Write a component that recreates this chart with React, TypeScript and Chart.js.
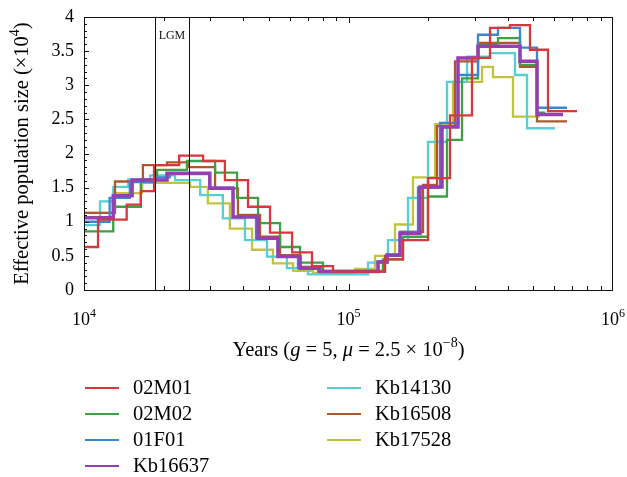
import React, { useEffect, useRef } from 'react';
import { Chart, registerables } from 'chart.js';

Chart.register(...registerables);

// ---------- data (years, effective population size ×10^4) ----------
const seriesNames = ['02M01', '02M02', '01F01', 'Kb16637', 'Kb14130', 'Kb16508', 'Kb17528'];
const seriesColors = ['#d8373b', '#3da043', '#3a86d0', '#9440b0', '#55cfd4', '#b0562c', '#c3c23d'];

const years02M01 = [10000, 11300, 14500, 16400, 18400, 22900, 28200, 34100, 41700, 50500, 61200, 72800, 87400, 137400, 160700, 199800, 242000, 293000, 342800, 407900, 485500, 567900, 731000];
const ne02M01 = [0.63, 1.03, 1.25, 1.45, 1.83, 1.97, 1.89, 1.61, 1.22, 0.84, 0.55, 0.35, 0.27, 0.45, 0.73, 1.64, 2.56, 3.40, 3.84, 3.88, 3.52, 2.62, 2.62];

const years02M02 = [10000, 12900, 16400, 18900, 24500, 31300, 37900, 45500, 55100, 65600, 80100, 135000, 160700, 199800, 235700, 268600, 308800, 367500, 445000, 516000, 553200];
const ne02M02 = [0.86, 1.22, 1.62, 1.76, 1.89, 1.72, 1.35, 0.98, 0.63, 0.40, 0.28, 0.45, 0.78, 1.37, 2.20, 3.10, 3.59, 3.69, 3.30, 2.60, 2.60];

const years01F01 = [10000, 12500, 14900, 18600, 21100, 29900, 36600, 44700, 54100, 64400, 76700, 129300, 139800, 156600, 183100, 221800, 259400, 308800, 367500, 445000, 516000, 670000];
const ne01F01 = [1.00, 1.35, 1.58, 1.65, 1.70, 1.50, 1.07, 0.76, 0.49, 0.32, 0.27, 0.42, 0.52, 0.85, 1.50, 2.45, 3.15, 3.74, 3.84, 3.55, 2.67, 2.67];

const yearsKb16637 = [10000, 12900, 15200, 20600, 29900, 36600, 45500, 54100, 65600, 78000, 129300, 139800, 156600, 186400, 225700, 259400, 308800, 445000, 516000, 647100];
const neKb16637 = [1.06, 1.38, 1.61, 1.71, 1.49, 1.07, 0.76, 0.49, 0.32, 0.27, 0.41, 0.51, 0.83, 1.51, 2.39, 3.40, 3.57, 3.35, 2.57, 2.57];

const yearsKb14130 = [10000, 11500, 12900, 14700, 17800, 22100, 27500, 33500, 40600, 49200, 58500, 70300, 118500, 141000, 167900, 199800, 235700, 280600, 342800, 426100, 473000, 603600];
const neKb14130 = [0.95, 1.30, 1.51, 1.62, 1.68, 1.61, 1.39, 1.05, 0.73, 0.49, 0.32, 0.23, 0.40, 0.73, 1.35, 2.17, 3.05, 3.42, 3.47, 3.15, 2.37, 2.37];

const yearsKb16508 = [10000, 13100, 16700, 20600, 24700, 31300, 38200, 46300, 55100, 65600, 80100, 137400, 156600, 191300, 216100, 252700, 308800, 445000, 516000, 670000];
const neKb16508 = [1.13, 1.59, 1.83, 1.87, 1.80, 1.49, 1.10, 0.78, 0.51, 0.34, 0.27, 0.50, 0.85, 1.54, 2.40, 3.35, 3.62, 3.27, 2.47, 2.47];

const yearsKb17528 = [10000, 12900, 16600, 25200, 29400, 35600, 43200, 51800, 61700, 73400, 105800, 126000, 149900, 175300, 212400, 248400, 319700, 351800, 418700, 529700];
const neKb17528 = [1.13, 1.42, 1.57, 1.51, 1.27, 0.90, 0.59, 0.39, 0.28, 0.25, 0.31, 0.50, 0.96, 1.65, 2.43, 3.05, 3.27, 3.12, 2.54, 2.54];

const seriesYears = [years02M01, years02M02, years01F01, yearsKb16637, yearsKb14130, yearsKb16508, yearsKb17528];
const seriesNe = [ne02M01, ne02M02, ne01F01, neKb16637, neKb14130, neKb16508, neKb17528];
const seriesOrder = [0, 3, 2, 1, 5, 4, 6];

const yTickValues = [0, 0.5, 1, 1.5, 2, 2.5, 3, 3.5, 4];
const xTickValues = [1e4, 1e5, 1e6];
const xTickExponents = ['4', '5', '6'];
const lgmRange = [18500, 25000];
const lgmLabel = 'LGM';

const SERIF = '"Liberation Serif", "DejaVu Serif", serif';

type Run = { t: string; italic?: boolean; sup?: boolean };

function drawRuns(ctx: CanvasRenderingContext2D, runs: Run[], cx: number, baseline: number, size: number) {
  const supSize = Math.round(size * 0.66);
  const fontFor = (r: Run) => `${r.italic ? 'italic ' : ''}${r.sup ? supSize : size}px ${SERIF}`;
  let total = 0;
  const widths = runs.map((r) => {
    ctx.font = fontFor(r);
    const w = ctx.measureText(r.t).width;
    total += w;
    return w;
  });
  let x = cx - total / 2;
  ctx.textAlign = 'left';
  ctx.textBaseline = 'alphabetic';
  runs.forEach((r, i) => {
    ctx.font = fontFor(r);
    ctx.fillText(r.t, x, r.sup ? baseline - size * 0.42 : baseline);
    x += widths[i];
  });
}

const decorPlugin = {
  id: 'decor',
  afterDatasetsDraw(chart: any) {
    const { ctx, chartArea, scales } = chart;
    const { left, right, top, bottom } = chartArea;
    const xs = scales.x;
    const ys = scales.y;
    ctx.save();
    ctx.strokeStyle = '#111';
    ctx.fillStyle = '#111';
    ctx.lineWidth = 1;

    // LGM band lines
    lgmRange.forEach((v) => {
      const px = Math.round(xs.getPixelForValue(v)) + 0.5;
      ctx.beginPath();
      ctx.moveTo(px, top);
      ctx.lineTo(px, bottom);
      ctx.stroke();
    });
    const lgmCx = (xs.getPixelForValue(lgmRange[0]) + xs.getPixelForValue(lgmRange[1])) / 2;
    ctx.font = `12px ${SERIF}`;
    ctx.textAlign = 'center';
    ctx.textBaseline = 'middle';
    ctx.fillText(lgmLabel, lgmCx, top + 19);

    // frame
    ctx.strokeRect(Math.round(left) + 0.5, Math.round(top) + 0.5, Math.round(right - left) - 1, Math.round(bottom - top));

    // y ticks (major 0.5, minor 0.1)
    for (let i = 0; i <= 40; i++) {
      const py = Math.round(ys.getPixelForValue(i / 10)) + 0.5;
      const len = i % 5 === 0 ? 5 : 3;
      ctx.beginPath();
      ctx.moveTo(left, py);
      ctx.lineTo(left + len, py);
      ctx.stroke();
    }

    // x ticks (log decades and minor)
    for (let d = 4; d < 6; d++) {
      for (let k = 1; k <= 9; k++) {
        const v = k * Math.pow(10, d);
        const px = Math.round(xs.getPixelForValue(v)) + 0.5;
        const len = k === 1 ? 6 : 4;
        ctx.beginPath();
        ctx.moveTo(px, bottom);
        ctx.lineTo(px, bottom - len);
        ctx.moveTo(px, top);
        ctx.lineTo(px, top + len);
        ctx.stroke();
      }
    }

    // x tick labels
    ctx.fillStyle = '#000';
    xTickValues.forEach((v, i) => {
      const px = xs.getPixelForValue(v);
      drawRuns(ctx, [{ t: '10' }, { t: xTickExponents[i], sup: true }], px, bottom + 35, 18);
    });

    // x title
    drawRuns(
      ctx,
      [
        { t: 'Years (' },
        { t: 'g', italic: true },
        { t: ' = 5, ' },
        { t: 'μ', italic: true },
        { t: ' = 2.5 × 10' },
        { t: '−8', sup: true },
        { t: ')' },
      ],
      (left + right) / 2,
      bottom + 66,
      20.5
    );

    // y title
    ctx.save();
    ctx.translate(28, (top + bottom) / 2);
    ctx.rotate(-Math.PI / 2);
    drawRuns(ctx, [{ t: 'Effective population size (×10' }, { t: '4', sup: true }, { t: ')' }], 0, 0, 20.5);
    ctx.restore();

    // legend
    const legendCols = [
      { lineX: 85, textX: 133 },
      { lineX: 327, textX: 375 },
    ];
    const rowY = [388, 414, 440, 466];
    seriesNames.forEach((name, i) => {
      const col = legendCols[i < 4 ? 0 : 1];
      const y = rowY[i < 4 ? i : i - 4];
      ctx.strokeStyle = seriesColors[i];
      ctx.lineWidth = 2;
      ctx.beginPath();
      ctx.moveTo(col.lineX, y);
      ctx.lineTo(col.lineX + 34, y);
      ctx.stroke();
      ctx.fillStyle = '#000';
      ctx.font = `20.5px ${SERIF}`;
      ctx.textAlign = 'left';
      ctx.textBaseline = 'middle';
      ctx.fillText(name, col.textX, y + 1);
    });

    ctx.restore();
  },
};

export default function App() {
  const ref = useRef<HTMLCanvasElement>(null);
  useEffect(() => {
    const canvas = ref.current;
    if (!canvas) return;
    const datasets = seriesNames.map((name, i) => ({
      label: name,
      data: seriesYears[i].map((x, j) => ({ x, y: seriesNe[i][j] })),
      borderColor: seriesColors[i],
      borderWidth: name === 'Kb16637' ? 3.5 : 2.3,
      pointRadius: 0,
      fill: false,
      stepped: 'before' as const,
      order: seriesOrder[i],
    }));
    const chart = new Chart(canvas, {
      type: 'line',
      data: { datasets },
      options: {
        animation: false,
        responsive: false,
        devicePixelRatio: 1,
        layout: { padding: { left: 0, right: 14, top: 17, bottom: 0 } },
        plugins: { legend: { display: false }, tooltip: { enabled: false } },
        scales: {
          x: {
            type: 'logarithmic',
            min: 1e4,
            max: 1e6,
            grid: { display: false },
            border: { display: false },
            ticks: { display: false },
            afterFit: (scale: any) => {
              scale.height = 187;
              scale.paddingLeft = 0;
              scale.paddingRight = 0;
            },
          },
          y: {
            type: 'linear',
            min: 0,
            max: 4,
            grid: { display: false, drawTicks: false },
            border: { display: false },
            ticks: {
              autoSkip: false,
              padding: 10,
              color: '#000',
              font: { family: SERIF, size: 18 },
              callback: (v: any) => (yTickValues.includes(Number(v)) ? String(v) : ''),
              stepSize: 0.5,
            },
            afterFit: (scale: any) => {
              scale.width = 84;
              scale.paddingTop = 0;
              scale.paddingBottom = 0;
            },
          },
        },
      },
      plugins: [decorPlugin],
    });
    return () => chart.destroy();
  }, []);
  return (
    <div style={{ position: 'absolute', left: 0, top: 0, width: 627, height: 477, background: '#fff' }}>
      <canvas ref={ref} width={627} height={477} style={{ display: 'block', width: 627, height: 477 }} />
    </div>
  );
}
